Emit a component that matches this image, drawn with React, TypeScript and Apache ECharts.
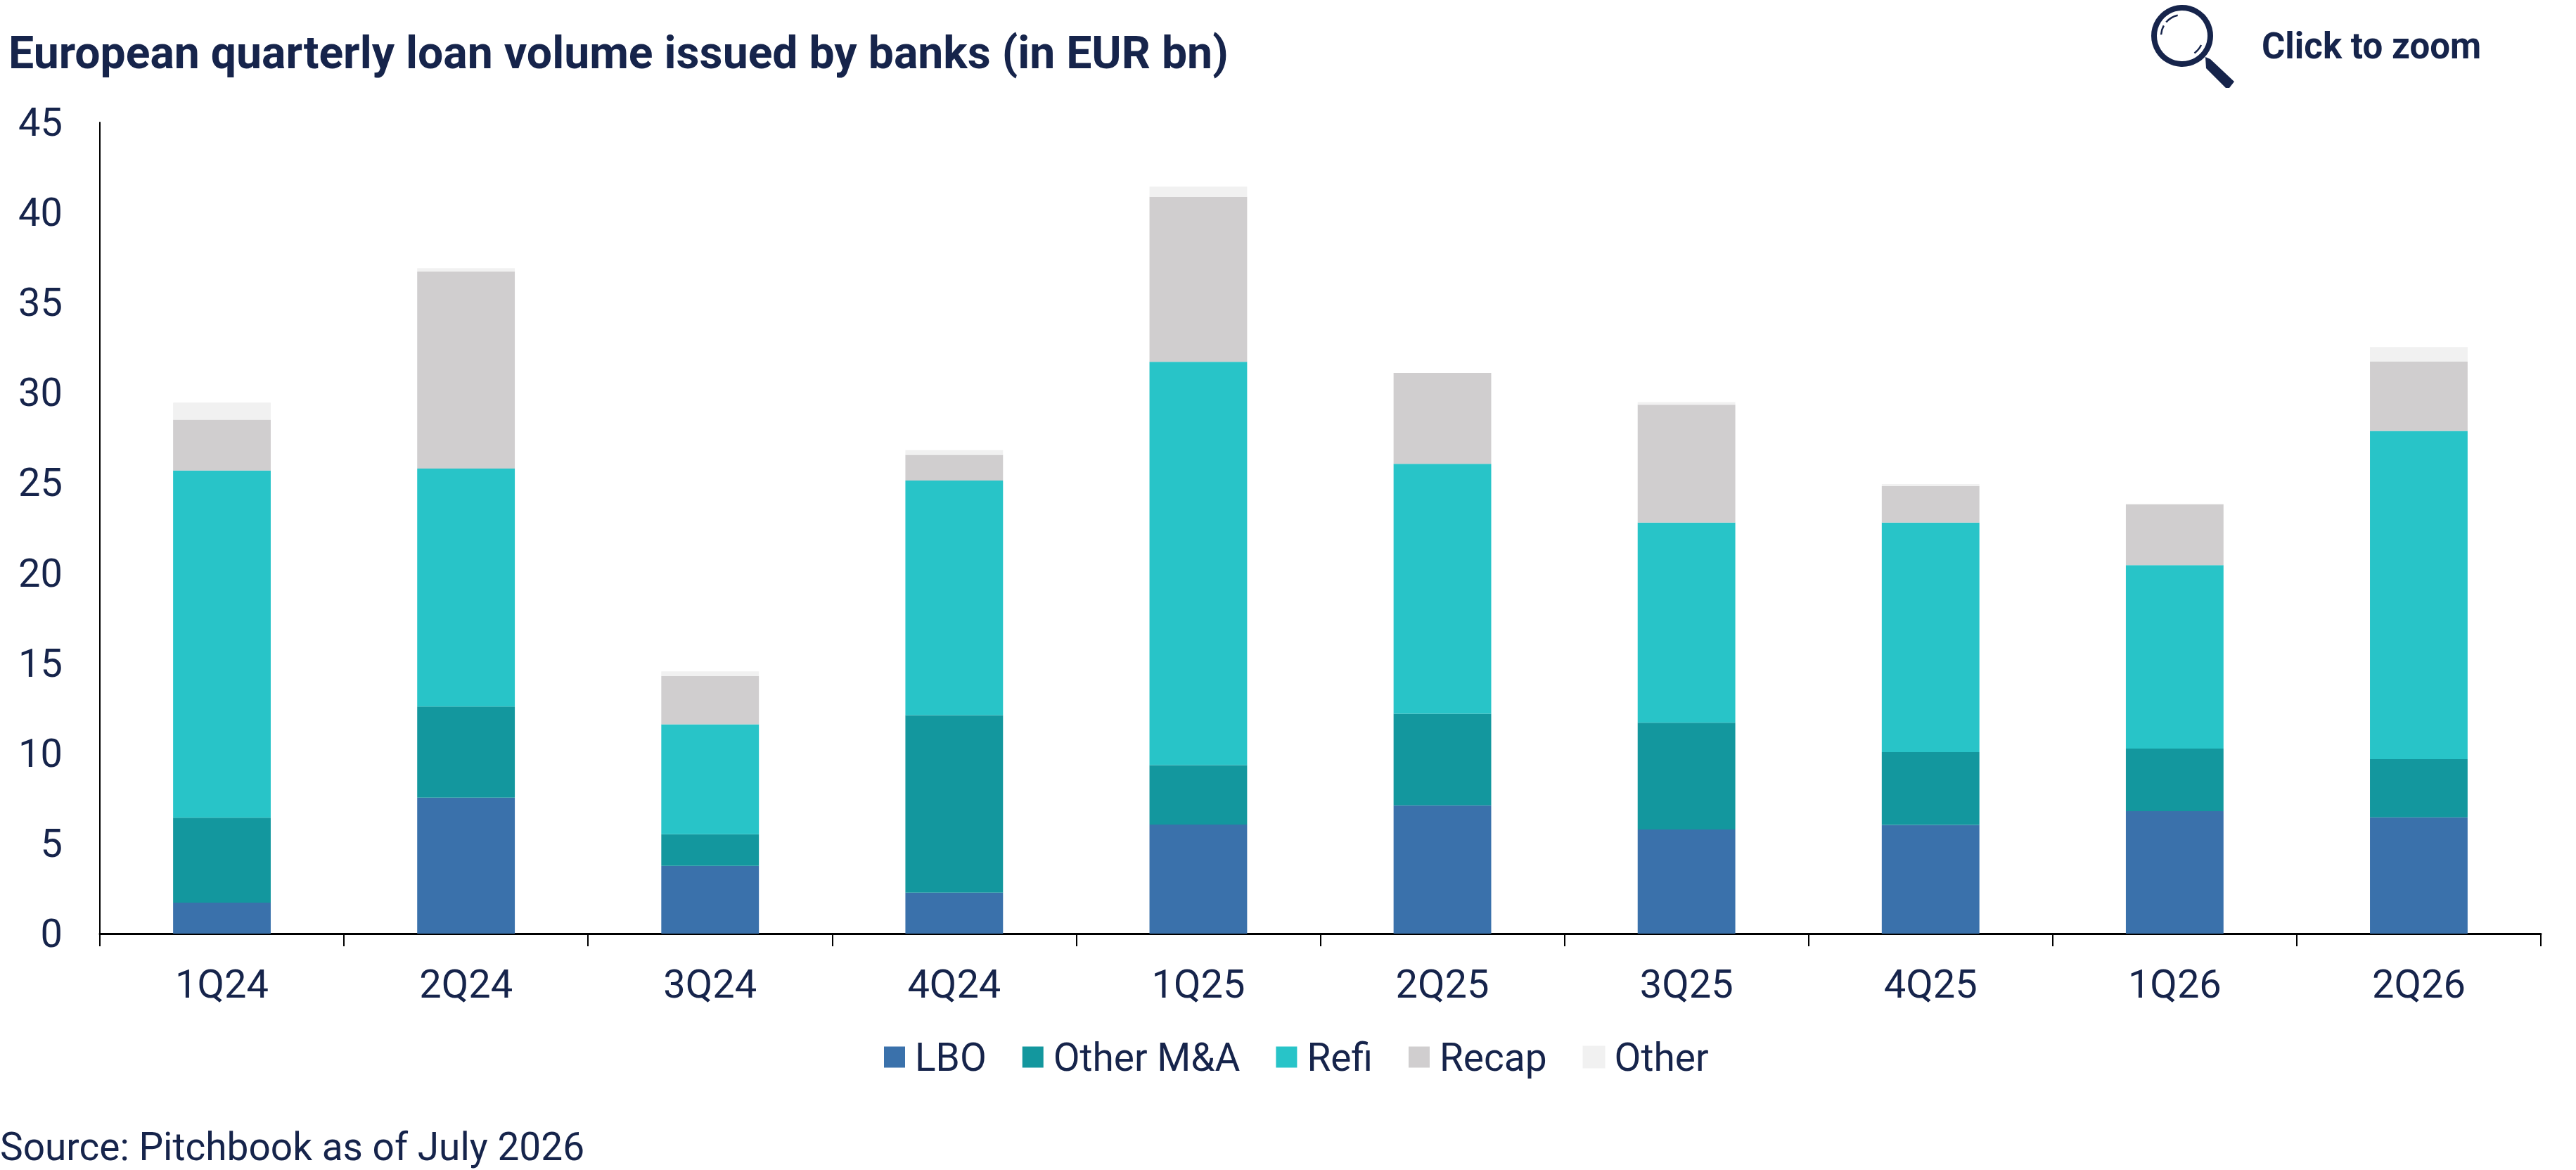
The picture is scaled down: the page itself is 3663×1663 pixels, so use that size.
import React, { useEffect, useRef } from "react";
import * as echarts from "echarts";

const quarters = ["1Q24", "2Q24", "3Q24", "4Q24", "1Q25", "2Q25", "3Q25", "4Q25", "1Q26", "2Q26"];
const lbo = [1.72, 7.54, 3.76, 2.27, 6.05, 7.11, 5.78, 6.03, 6.79, 6.45];
const otherMA = [4.71, 5.06, 1.75, 9.85, 3.3, 5.09, 5.92, 4.04, 3.47, 3.23];
const refi = [19.26, 13.2, 6.1, 13.01, 22.37, 13.86, 11.1, 12.73, 10.18, 18.21];
const recap = [2.82, 10.93, 2.67, 1.43, 9.15, 5.05, 6.54, 2.02, 3.38, 3.85];
const other = [0.95, 0.18, 0.27, 0.26, 0.57, null, 0.15, 0.12, null, 0.8];
const yMax = 45;
const yStep = 5;
const TEXT = "#16244B";
const FONT = "Roboto";

export default function App() {
  const ref = useRef<HTMLDivElement>(null);
  useEffect(() => {
    const chart = echarts.init(ref.current!, undefined, { renderer: "svg" });
    const mk = (name: string, data: (number | null)[], color: string, border = 0) => ({
      name,
      type: "bar",
      stack: "total",
      data,
      barWidth: "40%",
      itemStyle: { color, borderColor: color, borderWidth: border },
    });
    chart.setOption({
      animation: false,
      backgroundColor: "#fff",
      title: {
        text: "European quarterly loan volume issued by banks (in EUR bn)",
        left: 7,
        top: 38,
        textStyle: { fontFamily: FONT, fontWeight: 700, fontSize: 64.3, color: TEXT },
      },
      legend: {
        left: 1252,
        top: 1470,
        icon: "rect",
        itemWidth: 30,
        itemHeight: 30,
        itemGap: 51,
        selectedMode: false,
        textStyle: { fontFamily: FONT, fontSize: 55, color: TEXT, padding: [0, 0, 0, 9] },
      },
      grid: { left: 142, right: 50, top: 174, bottom: 336, containLabel: false },
      xAxis: {
        type: "category",
        data: quarters,
        axisLine: { lineStyle: { color: "#000", width: 3 } },
        axisTick: { show: true, alignWithLabel: false, length: 18, lineStyle: { color: "#000", width: 2 } },
        axisLabel: { fontFamily: FONT, fontSize: 56, color: TEXT, margin: 44 },
      },
      yAxis: {
        type: "value",
        min: 0,
        max: yMax,
        interval: yStep,
        splitLine: { show: false },
        axisLine: { show: true, lineStyle: { color: "#000", width: 2 } },
        axisTick: { show: false },
        axisLabel: { fontFamily: FONT, fontSize: 56, color: TEXT, margin: 53, padding: [0, 0, 6, 0] },
      },
      series: [
        mk("LBO", lbo, "#3A71AB"),
        mk("Other M&A", otherMA, "#13979E"),
        mk("Refi", refi, "#28C4C8"),
        mk("Recap", recap, "#D0CECF"),
        mk("Other", other, "#F1F1F1", 2),
      ],
      graphic: [
        { type: "text", left: 0, top: 1602, style: { text: "Source: Pitchbook as of July 2026", font: `55px ${FONT}`, fill: TEXT } },
        { type: "text", left: 3216, top: 40, style: { text: "Click to zoom", font: `700 51px ${FONT}`, fill: TEXT } },
        { type: "circle", shape: { cx: 3103, cy: 51, r: 40 }, style: { fill: "none", stroke: TEXT, lineWidth: 8 } },
        { type: "arc", shape: { cx: 3103, cy: 51, r: 30, startAngle: 3.2, endAngle: 3.65 }, style: { fill: "none", stroke: TEXT, lineWidth: 2.5 } },
        { type: "arc", shape: { cx: 3103, cy: 51, r: 30, startAngle: 3.85, endAngle: 4.5 }, style: { fill: "none", stroke: TEXT, lineWidth: 2.5 } },
        { type: "arc", shape: { cx: 3103, cy: 51, r: 30, startAngle: 0.45, endAngle: 0.95 }, style: { fill: "none", stroke: TEXT, lineWidth: 2.5 } },
        { type: "polygon", shape: { points: [[3136, 81], [3143, 84], [3177, 116], [3170, 125], [3165, 125], [3137, 97]] }, style: { fill: TEXT } },
      ],
    });
    return () => chart.dispose();
  }, []);
  return <div ref={ref} style={{ position: "fixed", left: 0, top: 0, width: 3663, height: 1663 }} />;
}
